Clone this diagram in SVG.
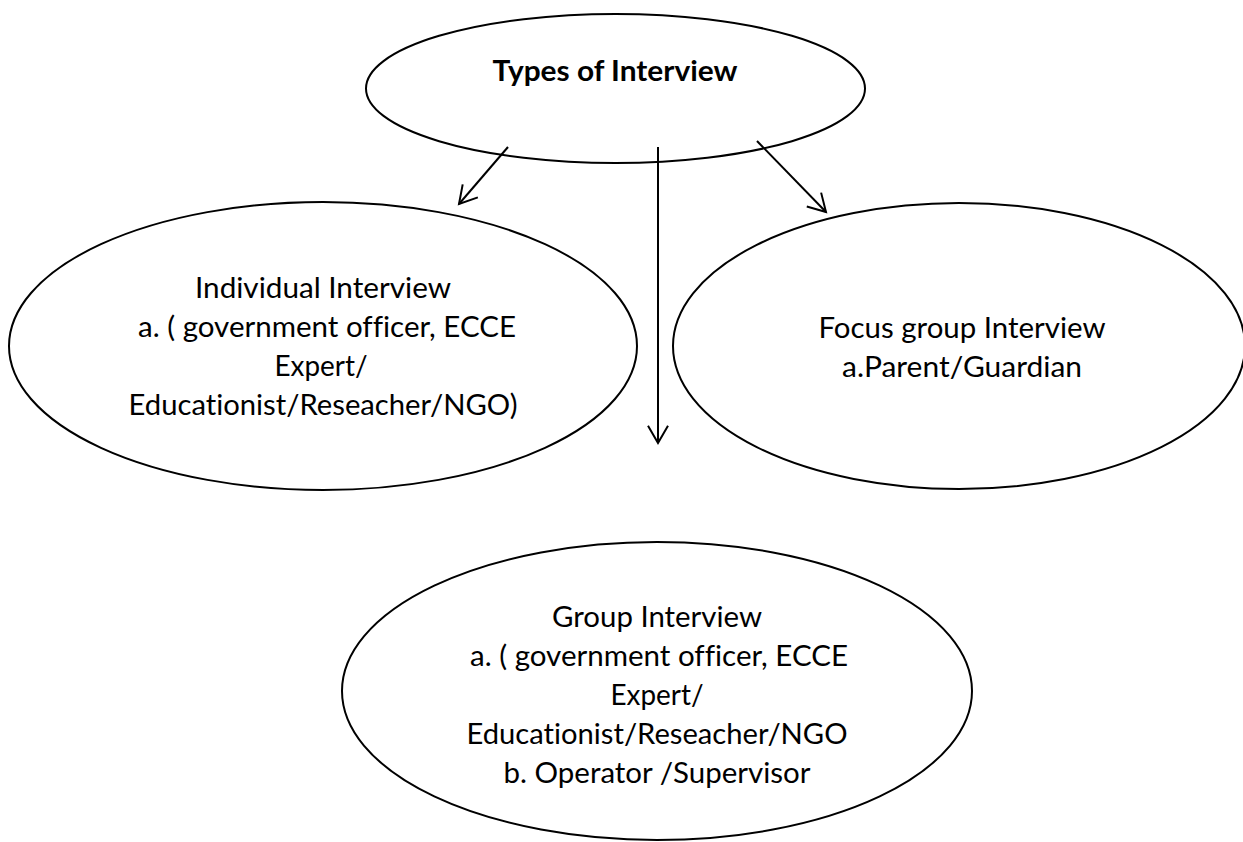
<svg xmlns="http://www.w3.org/2000/svg" width="1243" height="842" viewBox="0 0 1243 842">
<style>
.node{fill:#ffffff;stroke:#000000;stroke-width:2}
.t{font-family:Lato,"Liberation Sans",Arial,sans-serif;font-size:29px;fill:#000000;text-anchor:middle;font-variant-ligatures:none;font-feature-settings:"liga" 0,"clig" 0}
.b{font-weight:bold}
.edge{stroke:#000000;stroke-width:2;fill:none;marker-end:url(#arr)}
</style>
<defs>
<marker id="arr" markerUnits="userSpaceOnUse" markerWidth="40" markerHeight="40" viewBox="-20 -20 40 40" refX="0" refY="0" orient="auto" overflow="visible">
<path d="M-17.3,-10 L0,0 L-17.3,10" fill="none" stroke="#000000" stroke-width="2"/>
</marker>
</defs>
<rect x="0" y="0" width="1243" height="842" fill="#ffffff"/>
<g id="node-types">
<ellipse class="node" cx="615.5" cy="88.5" rx="249.5" ry="74.5"/>
<text class="t b" x="615" y="81" textLength="245" lengthAdjust="spacingAndGlyphs">Types of Interview</text>
</g>
<g id="node-individual">
<ellipse class="node" cx="323" cy="346" rx="314" ry="144"/>
<text class="t" x="323" y="298" textLength="256" lengthAdjust="spacingAndGlyphs">Individual Interview</text>
<text class="t" x="327" y="337" textLength="378" lengthAdjust="spacingAndGlyphs">a. ( government officer, ECCE</text>
<text class="t" x="321" y="376" textLength="93" lengthAdjust="spacingAndGlyphs">Expert/</text>
<text class="t" x="323" y="415" textLength="389" lengthAdjust="spacingAndGlyphs">Educationist/Reseacher/NGO)</text>
</g>
<g id="node-focus">
<ellipse class="node" cx="959" cy="346" rx="286" ry="143"/>
<text class="t" x="962" y="338" textLength="287" lengthAdjust="spacingAndGlyphs">Focus group Interview</text>
<text class="t" x="962" y="377" textLength="240" lengthAdjust="spacingAndGlyphs">a.Parent/Guardian</text>
</g>
<g id="node-group">
<ellipse class="node" cx="657" cy="691" rx="315" ry="149"/>
<text class="t" x="657" y="627" textLength="210" lengthAdjust="spacingAndGlyphs">Group Interview</text>
<text class="t" x="659" y="666" textLength="378" lengthAdjust="spacingAndGlyphs">a. ( government officer, ECCE</text>
<text class="t" x="657" y="705" textLength="93" lengthAdjust="spacingAndGlyphs">Expert/</text>
<text class="t" x="657" y="744" textLength="381" lengthAdjust="spacingAndGlyphs">Educationist/Reseacher/NGO</text>
<text class="t" x="657" y="783" textLength="307" lengthAdjust="spacingAndGlyphs">b. Operator /Supervisor</text>
</g>
<g id="connectors">
<line class="edge" x1="508" y1="147" x2="459" y2="204"/>
<line class="edge" x1="658" y1="147" x2="658" y2="443"/>
<line class="edge" x1="757" y1="141" x2="826" y2="212"/>
</g>
</svg>
